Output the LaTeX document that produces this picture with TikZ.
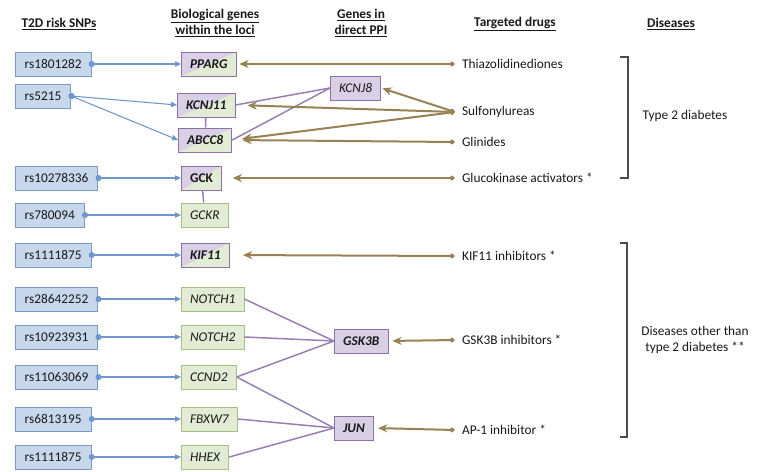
\documentclass[tikz,border=0pt]{standalone}
\usepackage{fontspec}
\setmainfont{Carlito}
\usetikzlibrary{arrows.meta}
\definecolor{snpblue}{RGB}{200,216,236}
\definecolor{snpedge}{RGB}{120,154,196}
\definecolor{genegreen}{RGB}{226,235,212}
\definecolor{geneedge}{RGB}{168,190,132}
\definecolor{ppipurple}{RGB}{218,208,230}
\definecolor{ppiedge}{RGB}{140,112,170}
\definecolor{linkblue}{RGB}{112,150,205}
\definecolor{drugbrown}{RGB}{150,130,82}

\begin{document}
\begin{tikzpicture}[x=0.75pt,y=-0.75pt,semithick]
    \tikzstyle{head}=[font=\bfseries,align=center,text=black!90]
    \tikzstyle{snp}=[draw=snpedge,fill=snpblue,anchor=west,inner xsep=7pt,minimum height=18pt,text=black!90]
    \tikzstyle{gene}=[draw=geneedge,fill=genegreen,anchor=west,inner xsep=6.5pt,minimum height=18pt,font=\itshape,text=black!90]
    \tikzstyle{ppi}=[gene,draw=ppiedge,fill=ppipurple]
    \tikzstyle{both}=[gene,draw=ppiedge,font=\bfseries\itshape,
        path picture={\fill[ppipurple] (path picture bounding box.north west) -- (path picture bounding box.north east) -- (path picture bounding box.south west) -- cycle;}]
    \tikzstyle{drug}=[anchor=west,inner xsep=5pt,text=black!90]
    \tikzstyle{snplink}=[draw=linkblue,line width=0.8pt,shorten <=-2pt,arrows={Circle[length=4.5pt]-Triangle[length=4.5pt,width=4pt]}]
    \tikzstyle{ppilink}=[draw=ppiedge!90,line width=1.1pt]
    \tikzstyle{druglink}=[draw=drugbrown,line width=1.5pt,arrows={Stealth[length=7pt,width=6pt]-Diamond[length=4.5pt,width=4pt]}]
    \tikzstyle{bracket}=[draw=black!70,line width=1.1pt]

    \useasboundingbox (0,0) rectangle (763,471);

    \node[head] (H1) at (59,24)  {\underline{T2D risk SNPs}};
    \node[head] (H2) at (215,23) {\underline{Biological genes}\\\underline{within the loci}};
    \node[head] (H3) at (361,23) {\underline{Genes in}\\\underline{direct PPI}};
    \node[head] (H4) at (515,24) {\underline{Targeted drugs}};
    \node[head] (H5) at (671,24) {\underline{Diseases}};

    \node[snp] (S1)  at (15,64)  {rs1801282};
    \node[snp] (S2)  at (15,96)  {rs5215};
    \node[snp] (S3)  at (15,178) {rs10278336};
    \node[snp] (S4)  at (15,215) {rs780094};
    \node[snp] (S5)  at (15,255) {rs1111875};
    \node[snp] (S6)  at (15,299) {rs28642252};
    \node[snp] (S7)  at (15,337) {rs10923931};
    \node[snp] (S8)  at (15,377) {rs11063069};
    \node[snp] (S9)  at (15,419) {rs6813195};
    \node[snp] (S10) at (15,457) {rs1111875};

    \node[both] (PPARG)  at (181,64)  {PPARG};
    \node[both] (KCNJ11) at (177,105) {KCNJ11};
    \node[both] (ABCC8)  at (178,140) {ABCC8};
    \node[both,font=\bfseries] (GCK) at (181,178) {GCK};
    \node[gene] (GCKR)   at (181,215) {GCKR};
    \node[both] (KIF11)  at (181,255) {KIF11};
    \node[gene] (NOTCH1) at (181,299) {NOTCH1};
    \node[gene] (NOTCH2) at (181,337) {NOTCH2};
    \node[gene] (CCND2)  at (181,377) {CCND2};
    \node[gene] (FBXW7)  at (181,419) {FBXW7};
    \node[gene] (HHEX)   at (181,457) {HHEX};

    \node[ppi] (KCNJ8) at (330,88) {KCNJ8};
    \node[ppi,font=\bfseries\itshape] (GSK3B) at (334,341) {GSK3B};
    \node[ppi,font=\bfseries\itshape] (JUN)   at (334,428) {JUN};

    \node[drug] (D1) at (455,64)  {Thiazolidinediones};
    \node[drug] (D2) at (455,112) {Sulfonylureas};
    \node[drug] (D3) at (455,142) {Glinides};
    \node[drug] (D4) at (455,178) {Glucokinase activators *};
    \node[drug] (D5) at (455,256) {KIF11 inhibitors *};
    \node[drug] (D6) at (455,340) {GSK3B inhibitors *};
    \node[drug] (D7) at (455,430) {AP-1 inhibitor *};

    \node[text=black!90] (T2D) at (685,116) {Type 2 diabetes};
    \node[text=black!90,align=center] (OTHER) at (695,340) {Diseases other than\\type 2 diabetes **};

    \draw[bracket] (620,57) -- (628,57) -- (628,178) -- (620,178);
    \draw[bracket] (620,243) -- (627,243) -- (627,437) -- (620,437);

    \path (S1.east) edge[snplink] (PPARG.west)
          (S2.east) edge[snplink] (KCNJ11.west)
                    edge[snplink] (ABCC8.west)
          (S3.east) edge[snplink] (GCK.west)
          (S4.east) edge[snplink] (GCKR.west)
          (S5.east) edge[snplink] (KIF11.west)
          (S6.east) edge[snplink] (NOTCH1.west)
          (S7.east) edge[snplink] (NOTCH2.west)
          (S8.east) edge[snplink] (CCND2.west)
          (S9.east) edge[snplink] (FBXW7.west)
          (S10.east) edge[snplink] (HHEX.west);

    \path (KCNJ11) edge[ppilink] (ABCC8)
          (GCK) edge[ppilink] (GCKR)
          (KCNJ8.west) edge[ppilink] (KCNJ11.east)
                       edge[ppilink] (ABCC8.east)
          (GSK3B.west) edge[ppilink] (NOTCH1.east)
                       edge[ppilink] (NOTCH2.east)
                       edge[ppilink] (CCND2.east)
          (JUN.west) edge[ppilink] (CCND2.east)
                     edge[ppilink] (FBXW7.east)
                     edge[ppilink] (HHEX.east);

    \path (PPARG.east) edge[druglink,shorten <=2pt] (D1.west)
          (KCNJ8.east) edge[druglink,shorten <=1pt] (D2.west)
          (KCNJ11.east) edge[druglink,shorten <=9pt] (D2.west)
          (ABCC8.east) edge[druglink,shorten <=7.5pt] (D2.west)
                       edge[druglink,shorten <=7.5pt] (D3.west)
          (GCK.east) edge[druglink,shorten <=8pt] (D4.west)
          (KIF11.east) edge[druglink,shorten <=10pt] (D5.west)
          (GSK3B.east) edge[druglink,shorten <=3pt] (D6.west)
          (JUN.east) edge[druglink,shorten <=3pt] (D7.west);

\end{tikzpicture}
\end{document}
